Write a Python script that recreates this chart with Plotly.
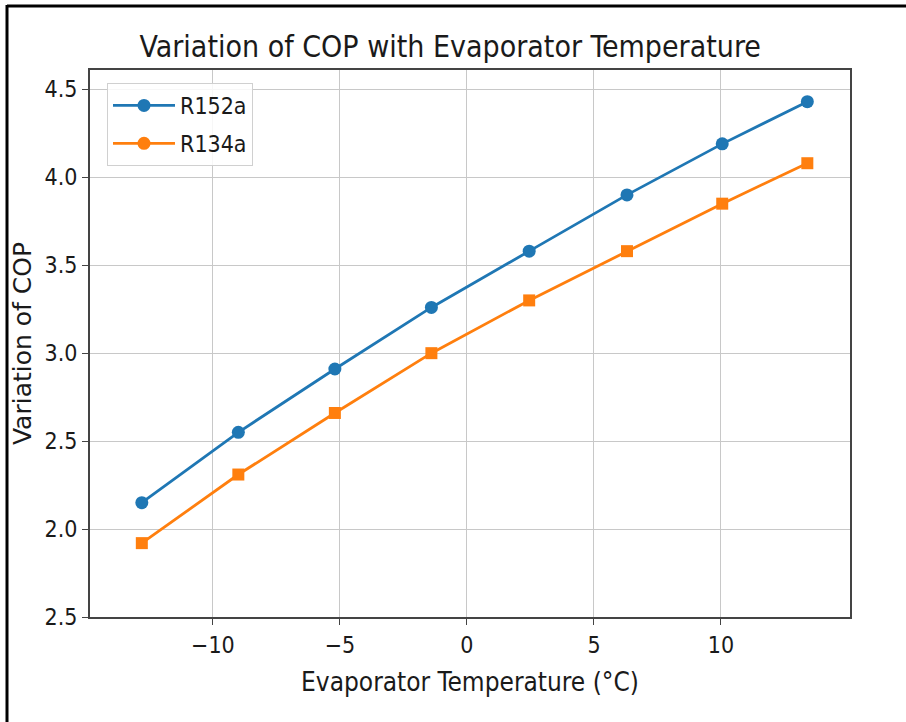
import plotly.graph_objects as go

temps = [-12.8, -9.0, -5.2, -1.4, 2.45, 6.3, 10.05, 13.4]
cop_r152a = [2.15, 2.55, 2.91, 3.26, 3.58, 3.90, 4.19, 4.43]
cop_r134a = [1.92, 2.31, 2.66, 3.00, 3.30, 3.58, 3.85, 4.08]
y_tickvals = [1.5, 2.0, 2.5, 3.0, 3.5, 4.0, 4.5]
y_ticktext = ["2.5", "2.0", "2.5", "3.0", "3.5", "4.0", "4.5"]
x_tickvals = [-10, -5, 0, 5, 10]
x_ticktext = ["\u221210", "\u22125", "0", "5", "10"]

BLUE = "#1f77b4"
ORANGE = "#ff7f0e"
FONT = "DejaVu Sans Condensed, DejaVu Sans, sans-serif"
FONT_Y = "DejaVu Sans, sans-serif"
TXT = "#1a1a1a"

fig = go.Figure()
fig.add_trace(go.Scatter(x=temps, y=cop_r152a, mode="lines+markers", showlegend=False,
                         line=dict(color=BLUE, width=2.8),
                         marker=dict(symbol="circle", size=13, color=BLUE)))
fig.add_trace(go.Scatter(x=temps, y=cop_r134a, mode="lines+markers", showlegend=False,
                         line=dict(color=ORANGE, width=2.8),
                         marker=dict(symbol="square", size=12, color=ORANGE)))
# legend entries (the reference legend shows circle markers for both)
fig.add_trace(go.Scatter(x=[None], y=[None], mode="lines+markers", name="R152a",
                         legendgroup="a",
                         line=dict(color=BLUE, width=2.8),
                         marker=dict(symbol="circle", size=13, color=BLUE)))
fig.add_trace(go.Scatter(x=[None], y=[None], mode="lines+markers", name="R134a",
                         legendgroup="b",
                         line=dict(color=ORANGE, width=2.8),
                         marker=dict(symbol="circle", size=13, color=ORANGE)))

L, R, T, B = 90, 56, 70, 105
W, H = 906, 722
pw = W - L - R
ph = H - T - B

def px_x(px):
    return (px - L) / pw

def px_y(py):
    return (H - B - py) / ph

fig.update_layout(
    width=W, height=H,
    margin=dict(l=L, r=R, t=T, b=B),
    paper_bgcolor="white", plot_bgcolor="white",
    font=dict(family=FONT, size=22, color=TXT),
    title=dict(text="Variation of COP with Evaporator Temperature",
               x=0.497, xanchor="center", y=1 - 46 / H, yanchor="middle",
               font=dict(family=FONT, size=30, color=TXT)),
    xaxis=dict(range=[-14.84, 15.08], tickvals=x_tickvals, ticktext=x_ticktext,
               showgrid=True, gridcolor="#c8c8c8", gridwidth=1, zeroline=False,
               showline=True, mirror=True, linecolor="#444", linewidth=2,
               ticks="outside", ticklen=6, tickcolor="#444",
               title=dict(text="Evaporator Temperature (\u00b0C)", standoff=16,
                          font=dict(family=FONT, size=26, color=TXT)),
               tickfont=dict(family=FONT, size=23, color=TXT)),
    yaxis=dict(range=[1.5, 4.61], tickvals=y_tickvals, ticktext=y_ticktext,
               showgrid=True, gridcolor="#c8c8c8", gridwidth=1, zeroline=False,
               showline=True, mirror=True, linecolor="#444", linewidth=2,
               ticks="outside", ticklen=6, tickcolor="#444",
               title=dict(text="Variation of COP", standoff=6,
                          font=dict(family=FONT_Y, size=25, color=TXT)),
               tickfont=dict(family=FONT, size=23, color=TXT)),
    legend=dict(x=px_x(107), y=px_y(83), xanchor="left", yanchor="top",
                bgcolor="rgba(255,255,255,0.85)", bordercolor="#d0d0d0", borderwidth=1,
                font=dict(family=FONT, size=23, color=TXT),
                itemwidth=62, tracegroupgap=5),
    shapes=[
        dict(type="line", xref="paper", yref="paper", x0=px_x(7), x1=px_x(910),
             y0=px_y(6), y1=px_y(6), line=dict(color="black", width=3)),
        dict(type="line", xref="paper", yref="paper", x0=px_x(7), x1=px_x(7),
             y0=px_y(5), y1=px_y(725), line=dict(color="black", width=3)),
    ],
)

fig.write_html("out.html")
